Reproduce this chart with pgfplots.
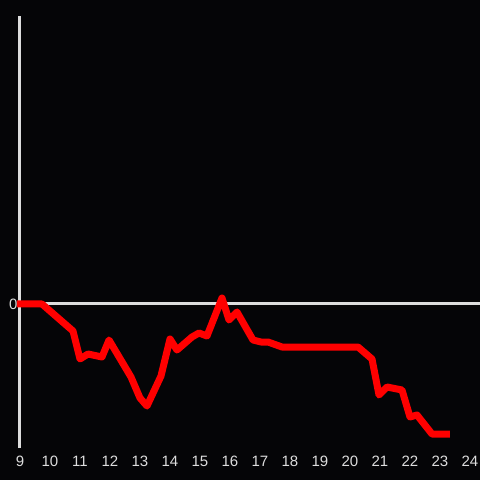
\documentclass[border=0pt]{standalone}
\usepackage{pgfplots}
\pgfplotsset{compat=1.18}
\usepackage{fontspec}
\setmainfont{Liberation Sans}
\definecolor{bg}{HTML}{050507}
\definecolor{ax}{HTML}{DDDDDD}
\definecolor{ln}{HTML}{FF0000}
\begin{document}
\begin{tikzpicture}[x=1pt,y=1pt]
\fill[bg] (0,0) rectangle (480,480);
\useasboundingbox (0,0) rectangle (480,480);
\begin{axis}[at={(20pt,32pt)}, anchor=south west, scale only axis,
  width=460pt, height=432pt,
  xmin=9, xmax=24.3333, ymin=-144, ymax=288,
  axis line style={draw=none},
  xtick={9,...,24}, ytick={0},
  major tick length=0pt,
  tick label style={font=\fontsize{15}{15}\selectfont, text=ax},
  xticklabel style={anchor=base, yshift=-18pt},
  yticklabel style={xshift=1pt},
  /pgf/number format/assume math mode=true,
  clip=false]
\addplot[ax, line width=3pt, no marks] coordinates {(9,-144) (9,288)};
\addplot[ax, line width=3pt, no marks] coordinates {(9,0) (24.3333,0)};
\addplot[ln, line width=7pt, no marks, line join=round] coordinates {
(8.9,0) (9.733,0) (10.767,-27) (11.0,-55) (11.267,-50) (11.733,-53)
(11.967,-36) (12.7,-73) (13.0,-94) (13.233,-102) (13.7,-72) (14.0,-35)
(14.233,-46) (14.733,-33) (14.967,-29) (15.233,-32) (15.733,6)
(15.967,-16) (16.233,-8) (16.767,-36) (17.033,-38) (17.267,-38)
(17.733,-43) (20.267,-43) (20.733,-55) (20.967,-91) (21.233,-83)
(21.733,-86) (22.0,-113) (22.233,-111) (22.733,-130) (23.333,-130)
};
\end{axis}
\end{tikzpicture}
\end{document}
